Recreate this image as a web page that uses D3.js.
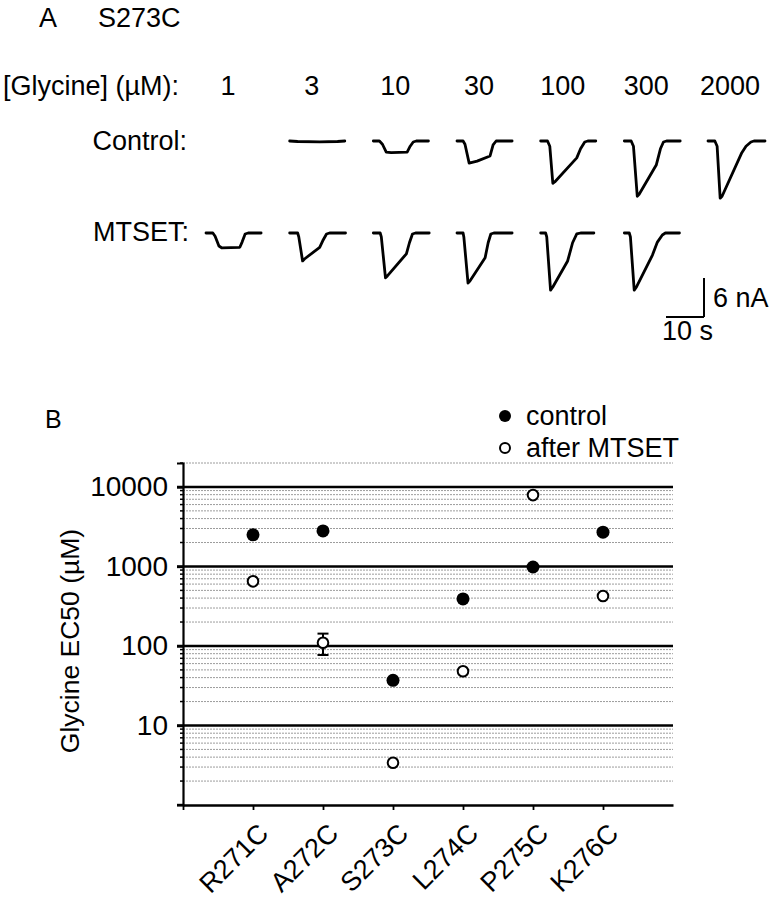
<!DOCTYPE html>
<html><head><meta charset="utf-8">
<script src="https://cdn.jsdelivr.net/npm/d3@7"></script>
<style>
body{margin:0;background:#fff}
text{font-family:"Liberation Sans",Arial,Helvetica,sans-serif;fill:#000}
</style>
</head><body>
<svg id="chart" width="778" height="900"></svg>
<script>
// ---------- Panel A data ----------
const concentrations = ["1","3","10","30","100","300","2000"];
const controlConc = ["3","10","30","100","300","2000"];
const mtsetConc = ["1","3","10","30","100","300"];
// traces: [time (s), current (nA)]
const control3 = [[0,0],[2.1,-0.08],[7.9,-0.15],[12.6,-0.08],[14.5,0]];
const control10 = [[0,0],[1.6,0],[2.4,-0.5],[3.4,-1.7],[4.7,-1.8],[8.9,-1.7],[9.7,-0.8],[10.5,-0.15],[11.3,0],[14.5,0]];
const control30 = [[0,0],[1.6,0],[2.1,-0.5],[3.2,-3.4],[5.3,-3.1],[8.7,-2.3],[9.5,-0.6],[10.3,0],[14.5,0]];
const control100 = [[0,0],[1.8,0],[2.4,-0.8],[3.2,-6.5],[3.7,-6.3],[9.5,-2.6],[10.5,-1.2],[11.6,-0.15],[12.4,0],[14.5,0]];
const control300 = [[0,0],[1.8,0],[2.4,-0.8],[3.4,-8.5],[3.9,-8.2],[8.4,-3.7],[9.5,-1.2],[10.3,-0.15],[11.1,0],[14.7,0]];
const control2000 = [[0,0],[1.8,0],[2.4,-0.8],[3.2,-8.8],[3.7,-8.5],[8.9,-1.8],[10,-0.8],[11.3,-0.15],[12.1,0],[15,0]];
const mtset1 = [[0,0],[1.8,0],[2.4,-0.5],[3.4,-2.0],[4.2,-2.3],[8.9,-2.2],[9.5,-1.4],[10.3,-0.15],[11.1,0],[14.5,0]];
const mtset3 = [[0,0],[2.1,0],[2.4,-0.6],[3.4,-4.3],[3.9,-4.0],[7.9,-2.2],[8.7,-1.2],[9.7,-0.15],[10.5,0],[14.7,0]];
const mtset10 = [[0,0],[1.8,0],[2.1,-0.6],[3.2,-6.9],[3.7,-6.6],[8.7,-3.2],[9.5,-1.5],[10.3,-0.15],[11.1,0],[14.7,0]];
const mtset30 = [[0,0],[1.6,0],[1.8,-0.6],[2.9,-7.7],[3.4,-7.4],[7.4,-3.8],[8.2,-1.5],[8.9,-0.15],[9.7,0],[14.5,0]];
const mtset100 = [[0,0],[1.3,0],[1.6,-0.6],[2.6,-8.8],[3.2,-8.3],[7.1,-4.3],[8.4,-1.5],[9.5,-0.15],[10.5,0],[14,0]];
const mtset300 = [[0,0],[1.3,0],[1.6,-0.6],[2.6,-8.8],[3.2,-8.3],[7.4,-3.4],[8.7,-1.4],[10,-0.3],[10.8,0],[14.5,0]];
const controlTraces = [control3, control10, control30, control100, control300, control2000];
const mtsetTraces = [mtset1, mtset3, mtset10, mtset30, mtset100, mtset300];
const scaleBarTime = 10;   // s
const scaleBarCurrent = 6; // nA

// ---------- Panel B data ----------
const mutants = ["R271C","A272C","S273C","L274C","P275C","K276C"];
const controlEC50 = [2500, 2800, 37, 390, 985, 2700];
const mtsetEC50 = [650, 110, 3.4, 48, 7900, 425];
const mtsetErr = [0, 33, 0, 0, 0, 0];
const yTickValues = [10, 100, 1000, 10000];

const svg = d3.select("#chart");

// ================= Panel A =================
svg.append("text").attr("x", 39).attr("y", 27).style("font-size","27px").text("A");
svg.append("text").attr("x", 98).attr("y", 27).style("font-size","27px").text("S273C");
svg.append("text").attr("x", 3).attr("y", 95).style("font-size","27px").text("[Glycine] (\u00B5M):");

const xConc = d3.scalePoint().domain(concentrations).range([228, 730]);
svg.append("g").selectAll("text").data(concentrations).join("text")
  .attr("x", d => xConc(d)).attr("y", 95).attr("text-anchor","middle")
  .style("font-size","27px").text(d => d);

svg.append("text").attr("x", 187).attr("y", 150).attr("text-anchor","end").style("font-size","27px").text("Control:");
svg.append("text").attr("x", 189).attr("y", 241).attr("text-anchor","end").style("font-size","27px").text("MTSET:");

const tS = d3.scaleLinear().domain([0, 10]).range([0, 38]);
const iS = d3.scaleLinear().domain([0, -6]).range([0, 39]);
const line = d3.line().x(d => tS(d[0])).y(d => iS(d[1]));
const traceOffset = -22;

function drawRow(concs, traces, baseY){
  const g = svg.append("g");
  g.selectAll("path").data(traces).join("path")
    .attr("transform", (d,i) => `translate(${xConc(concs[i]) + traceOffset},${baseY})`)
    .attr("d", line)
    .attr("fill","none").attr("stroke","#000").attr("stroke-width",2.8)
    .attr("stroke-linejoin","round").attr("stroke-linecap","round");
}
drawRow(controlConc, controlTraces, 141);
drawRow(mtsetConc, mtsetTraces, 233);

// scale bar
const sb = svg.append("g").attr("transform","translate(704,317)");
sb.append("line").attr("x1",0).attr("x2",0).attr("y1",0).attr("y2",-iS(-scaleBarCurrent))
  .attr("stroke","#000").attr("stroke-width",2);
sb.append("line").attr("x1",-tS(scaleBarTime)).attr("x2",0).attr("y1",0).attr("y2",0)
  .attr("stroke","#000").attr("stroke-width",2);
svg.append("text").attr("x",713).attr("y",307).style("font-size","27px").text(scaleBarCurrent + " nA");
svg.append("text").attr("x",662).attr("y",340).style("font-size","27px").text(scaleBarTime + " s");

// ================= Panel B =================
svg.append("text").attr("x", 45).attr("y", 428).style("font-size","25px").text("B");

const x = d3.scaleLinear().domain([0, 7]).range([183, 673]);
const y = d3.scaleLog().domain([1, 20000]).range([805, 463]);

const minorVals = y.ticks().filter(v => !yTickValues.includes(v) && v !== 1);
// minor grid
svg.append("g").selectAll("line").data(minorVals).join("line")
  .attr("x1", x(0)).attr("x2", x(7)).attr("y1", d => y(d)).attr("y2", d => y(d))
  .attr("stroke","#9c9c9c").attr("stroke-width",1).attr("stroke-dasharray","2,1");
// minor ticks
svg.append("g").selectAll("line").data(minorVals).join("line")
  .attr("x1", x(0) - 3).attr("x2", x(0)).attr("y1", d => y(d)).attr("y2", d => y(d))
  .attr("stroke","#000").attr("stroke-width",1.5);
// major grid
svg.append("g").selectAll("line").data(yTickValues).join("line")
  .attr("x1", x(0) - 6).attr("x2", x(7)).attr("y1", d => y(d)).attr("y2", d => y(d))
  .attr("stroke","#000").attr("stroke-width",2.6);

// y axis
const yAxis = d3.axisLeft(y).tickValues(yTickValues).tickFormat(d3.format("d")).tickSize(6).tickPadding(9);
const gy = svg.append("g").attr("transform",`translate(${x(0)},0)`).call(yAxis);
gy.select(".domain").attr("stroke","#000").attr("stroke-width",2.2);
gy.selectAll(".tick line").attr("stroke","#000").attr("stroke-width",2.4);
gy.selectAll(".tick text").style("font-size","28px").style("font-family",'"Liberation Sans",Arial,sans-serif').attr("fill","#000");

// x axis
const xAxis = d3.axisBottom(x).tickValues(d3.range(0, mutants.length + 1)).tickSize(5).tickFormat("").tickSizeOuter(0);
const gx = svg.append("g").attr("transform",`translate(0,${y(1)})`).call(xAxis);
gx.select(".domain").attr("stroke","#000").attr("stroke-width",2.4);
gx.selectAll(".tick line").attr("stroke","#000").attr("stroke-width",1.8);
svg.append("line").attr("x1", x(0) - 6).attr("x2", x(0)).attr("y1", y(1)).attr("y2", y(1)).attr("stroke","#000").attr("stroke-width",2.4);

// category labels
svg.append("g").selectAll("text").data(mutants).join("text")
  .attr("transform", (d,i) => `translate(${x(i+1) + 17},835) rotate(-45)`)
  .attr("text-anchor","end").style("font-size","27px").text(d => d);

// y title
svg.append("text").attr("transform","translate(79,641) rotate(-90)")
  .attr("text-anchor","middle").style("font-size","26.5px").text("Glycine EC50 (\u00B5M)");

// error bars
const eb = svg.append("g");
mutants.forEach((m,i) => {
  if (!mtsetErr[i]) return;
  const cx = x(i+1), v = mtsetEC50[i], e = mtsetErr[i];
  eb.append("line").attr("x1",cx).attr("x2",cx).attr("y1",y(v+e)).attr("y2",y(v-e)).attr("stroke","#000").attr("stroke-width",2);
  [v+e, v-e].forEach(w => eb.append("line").attr("x1",cx-5.5).attr("x2",cx+5.5).attr("y1",y(w)).attr("y2",y(w)).attr("stroke","#000").attr("stroke-width",2));
});

// points
svg.append("g").selectAll("circle").data(controlEC50).join("circle")
  .attr("cx", (d,i) => x(i+1)).attr("cy", d => y(d)).attr("r", 6.5).attr("fill","#000");
svg.append("g").selectAll("circle").data(mtsetEC50).join("circle")
  .attr("cx", (d,i) => x(i+1)).attr("cy", d => y(d)).attr("r", 5.3)
  .attr("fill","#fff").attr("stroke","#000").attr("stroke-width",2);

// legend
svg.append("circle").attr("cx",505).attr("cy",416).attr("r",6).attr("fill","#000");
svg.append("text").attr("x",526).attr("y",425).style("font-size","27px").text("control");
svg.append("circle").attr("cx",505).attr("cy",448).attr("r",5).attr("fill","#fff").attr("stroke","#000").attr("stroke-width",2);
svg.append("text").attr("x",526).attr("y",457).style("font-size","27px").text("after MTSET");
</script>
</body></html>
